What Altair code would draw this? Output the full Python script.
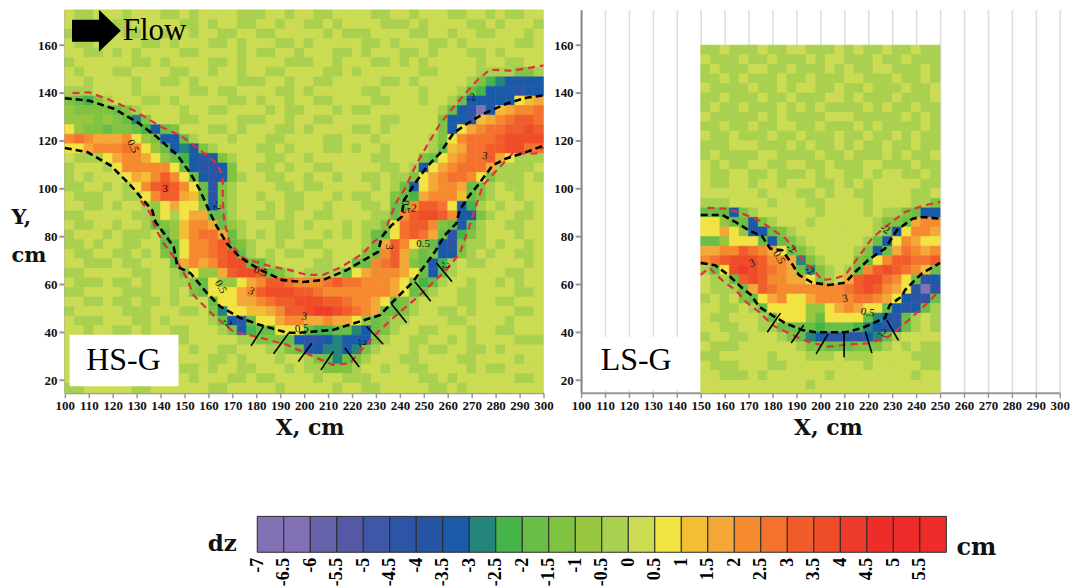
import altair as alt
import pandas as pd

LEVELS = {"P": -6.5, "B": -4.5, "b": -3.5, "t": -3, "g": -2.5, "h": -2, "m": -1.5, "l": -1,
          ",": -0.5, ".": 0, "y": 0.5, "o": 1, "a": 1.5, "c": 2, "d": 2.5, "e": 3, "f": 3.5, "r": 4}

LEFT_ROWS = [
    ".,,.. .,... ,,.,. ...,, ,..,. .,,.. ..,,. .,... ,,..,  .,,..",
    "..,.. ,,... ..,,. ,..,, ..,.. ,,.,. ...,, ,.,.. ..,,. ,...,",
    ",.... .,,.. ,..,. .,,.. ,,... ..,., ,,... .,,.. ,..,, ...,.",
    ".,,.. ...,, .,... ,,.,. ..,,. ,.... .,,., ...,, .,... ..,,.",
    "..,,. ,.,.. ..,,. ...,. ,,.., ...,, .,... ,,.,. ..,,. ,....",
    ",.... ..,,. ,.... ,,.,. ...,, ,..,. ..,,. ,.,.. ...,. .,,..",
    ".,... ,,... .,,.. ,..,. .,,.. ..,,. ,.... ..,,. ...,, ,,mm,",
    "..,.. ..,.. ,,.,. ...,, ,..,. .,,.. ...,, .,... ..,mg tbbbb",
    ",,,.. ..,.. ...,, .,,.. ..,,. ,.... .,,.. ..,.. .,hgb bbBbb",
    "mhgm, ...,, .,... ..,,. ,..,. .,,.. ..,,. ..,.. ,hbbb bbyoa",
    "lmmmm hm,.. ..,.. ,,... .,.,, ...,. ,,... ...., hbBPb oaccd",
    "lllml mhtm. ..,,. ...,, ,..,. .,,.. ...,, ....m bbBoa cdeed",
    "ylmmh mmhgb hm... ,,.,. ..,,. ,.... ,,.,. ....m byacd deefe",
    "cdcaa acylm bbh,. ..,.. .,,.. ..,,. ..,.. ...,m ycddd effff",
    "yyacc cdcyl hbtbm ,.... ,,.,. ..,,. ,..,. ...,h oadde effdd",
    ".,,,y accay lhgbB bm,.. .,,.. ,.... ..,,. ..mhy acdde ay,,,",
    ",..., ycccc cyhbB Bbm.. ,,.,. .,,.. ...,, .,bya cddda ,,,,.",
    ",.,.. .yaoc ecyhb Bbm,. .,,.. ,..,. .,,., ,myac ddcym ,,,.,",
    ",,.., .,yce fecyh Bm,.. ..,,. ,,... ..,., hbyac cahm, .,,..",
    ".,,,. .,,yc eeaoh Bm,.. ,..,, ...,. ,,..m hgacc cohm, ..,..",
    "..,,. ,..,l yayyl bm,.. .,.,, ..,.. .,,.h hceed ybg,. ,..,.",
    ",,... ..,,l y,yaa hh,.. ,,.,. .,,.. ..,,h ceffe cbbm, ..,,.",
    ".,,.. ,..,h mlocc ahl,. ..,,. ,..., .,,my deecm hbh,. .,,..",
    ",..., .,,,. hlocd dah,. ,.,,. ..,., .,hhy dedah Bgm,. ..,..",
    ",,.,. .,,.. hhycc dehm, ..,.. ,,... .,hae cylhb Bm,,. ,..,.",
    ".,,.. ,,.,. mhycc defh, .,.,, ..,.. .mhce alhmb bm,., ..,,.",
    "..,,, .,,.. .haca ceffh h,... .,,.. hhcde amhbg ,.,,. ...,.",
    ",,... ..,,. .,myl laeff ehm,. ,,,,h yaccc ayhbh ,.... .,,..",
    ".,,,. ,,.,. .,,mh yllya ceedc ccded dccca ymgh, ..,.. ,.,..",
    ",,... .,,,. .,.mh yyyac efffe edccc cccca yhm,. .,,.. ..,,.",
    "..,,. ,,.,, .,... hyyaa cdeef ffeed ccayh m,... .,,.. ,,...",
    ",.... .,,,. ..,,. mtyyo oacee frrfe dcahh m,.., ,.,.. ..,,.",
    ".,,,. ..,,. ,.... ,hbBh yyacc aacaa ylhm, ,.... ,,... .,...",
    "..,.. ,,.,. .,,.. .,mbg hhyyy hgghh tbhm, ..,,. ..,.. ,,...",
    ".,... ..,.. .,,.. ...,, mmmhb BBbtb bbm,. .,,.. ,.,.. ..,,,",
    "..,,. ..... ...,. .,,.. .,,mh bbttb tm,.. .,.,, ..,,. ,....",
    ".,... ..,.. .,... ,,.,. ..,.. ,mhth m,... ,,... .,,.. ..,..",
    "..... .,... ..,,. ,..,, ...,. ,,mmm ,..,. .,,.. ..,., ,....",
    "..,.. ..... ,..,. ..,,. ,,... .,.., ,,... ..,,. ,.... ..,,.",
    ",,... ..,,. ..... ,,... ..,.. ...,. .,,.. ...,, .,... .....",
]

RIGHT_ROWS = [
    ",,.,, ,.,,. .,,,. ,.,,. ,,.,,",
    ".,,,. ,,.,, ,.,.. ,,,., ,.,,,",
    ",.,,, ..,,. ,,,., .,,.. ,,,.,",
    ",,.,. ,,,., ,.,,, ..,,, .,,.,",
    ".,,,, .,,., ..,,. ,,.,, ,.,,.",
    ",,.,, ,.,,. ,,,.. ,.,,, .,,,.",
    ",.,,. ,,,., .,.,, ,,.,. ,,.,,",
    ".,,,, ,.,., ,,,.. .,,,, ,.,.,",
    ",,.,, .,,.. ,,.,, ,.,., ,,,.,",
    ".,,., ,,.,, .,,,. ,,.,, .,.,,",
    ",,,.. .,,,. ,.,,. ,.,,. ,,.,,",
    ",.,,, ,..,, ,,.,, .,,,. ,.,,.",
    ".,.,, ..,,. .,,., ,,.., ,,.,,",
    ".,,.. ,,.,, ,.,.. ,,.,. .,,.,",
    ".,,.. ,..,. ..,,. ,.,.. ...,,",
    "..... .,... ,,.,. .,,.. ..,,.",
    ",,,.. ..,.. .,,.. ..,.. ..,,m",
    "hhhbm ,.... ..,.. ..,., ,mhbb",
    "yylhh bm,.. .,... ...,m mhacc",
    "yyayl bbhm, ..... ...,m bycca",
    "hhlyy yhbhm ,.... ..,hb ycayy",
    "aacce dcayh m,... .,mbh adcac",
    "cdeff fecca tm,.. .mhyc eedde",
    ",hyfr fedca htm,. ,hcef edcoh",
    ".,,he fecca aym,. aeffd cyhBb",
    ".,,,h aedcc ccccc defec ayBPB",
    ",.,.m hyacy yaccc cddca ybBBh",
    "..,,. ,hyyy yllya cayyh bBbh,",
    ".,,.. .,hyy ylhyy yyhtb Bh,.,",
    "..,,. .,,hh hhghh hgtbB bh,.,",
    ",..,, ...,m htbBB BBbth ,....",
    ".,,,. ..... ,mmhh hmmm, .,.,,",
    ",,... ..,.. .,,,. ,,,.. ..,,,",
    ".,,,. ..,,. ..... ..,.. ...,,",
    "..,,, .,... ...,. ..... ..,..",
    "..... ..... .,... ..... .....",
    "..... ..... ..... ..... .....",
]

LEGEND_VALUES = [-7, -6.5, -6, -5.5, -5, -4.5, -4, -3.5, -3, -2.5, -2, -1.5, -1, -0.5,
                 0, 0.5, 1, 1.5, 2, 2.5, 3, 3.5, 4, 4.5, 5, 5.5]
LEGEND_COLORS = ["#8272b5", "#8272b5", "#6763ab", "#5558a5", "#3e58a7", "#2d55a5", "#2653a2",
                 "#1a5aa8", "#25857a", "#45b549", "#6abd45", "#80c341", "#97c63f", "#a9d04e",
                 "#cbdc52", "#f1e342", "#f2bf33", "#f4a838", "#f58a2e", "#f3732e", "#f05d2a",
                 "#ef4c28", "#ee3b2a", "#ee2d29", "#ee2a2a", "#ee2c2a"]

L_UP_BLACK = [(100,137.8),(110,136.8),(120.5,133.4),(130.3,127.8),(138.6,121.5),(147,114),(152.5,106.4),(156.5,99.3),(160.8,89.6),(163.6,84),(167.8,77),(173,71.5),(181.7,66),(191,61.8),(199.6,61),(208,61.9),(217.8,66),(224.7,70),(230.9,73.6),(232.4,79.9),(236.5,84.7),(240.7,88.2),(241.7,95.2),(246.3,102.2),(251.1,109),(256.7,114.7),(262.2,123),(267.8,127),(274.7,131.2),(284.4,135.5),(292.8,138),(300,139)]
L_LOW_BLACK = [(100,117),(109.4,115.3),(119,109.8),(127.5,101.4),(131.7,96.5),(136.5,91),(137.9,86.1),(141.4,81.4),(145.5,75.7),(147,67.4),(152.5,64.7),(159.4,56.4),(165,50.7),(173.3,46),(180.3,43.5),(192.8,39.8),(198.3,39.8),(212,41),(224.7,45),(231.7,47.2),(236.5,52.2),(245.5,61.1),(249,66),(254.6,73.6),(258.8,80.6),(263.6,85.5),(265,91),(268.5,96.5),(272,100.7),(278.8,109.8),(284.4,112.6),(292.8,115.3),(300,118)]
L_UP_RED = [(103.2,139.9),(110,140.3),(117.8,137.5),(128.9,132.7),(140,126),(148.3,122.2),(156.7,116),(163.6,110.5),(166,104.9),(166,95),(166.4,88.2),(166.7,86),(169,77),(174.6,71),(184.4,68),(194,66),(201,64),(208,64),(215,67),(224.7,73),(229,77.8),(233,80.6),(238.6,94.5),(241.7,99.3),(247,110.5),(252.5,120),(256.7,127),(263.6,135.5),(272,145),(277.5,149.7),(287,149.3),(300,151.5)]
L_LOW_RED = [(131.7,95),(135.8,89.6),(137.9,83.4),(141.4,77),(147,69.5),(151,62.5),(153.8,55.5),(162,47.2),(170.4,40.3),(180,38.2),(192.8,34.8),(203.8,29.9),(212,26.4),(219,27),(223.3,32),(231.7,41),(241,49.4),(247,54.4),(259.4,66),(265,73),(268.5,82.6),(272.5,95),(274.7,101.4),(287,114.7),(297,114.7),(300,117.4)]
L_SEGMENTS = [(183,42.4,177.8,34.3),(193.5,39.6,187.2,31),(203.2,35.4,197.6,27.8),(212.2,32,207,24.3),(217,33.4,223,25.5),(226.1,42.4,233,35),(236.5,51.8,242.8,44),(246.3,61.1,252.9,53),(255.3,69,261.8,61.1)]
L_LABELS = [("0.5",128.3,117.7,65),("3",142,100,0),("-2",163.6,93,90),("-2",269.9,137.8,-20),("3",275.4,113.6,10),("0.5",242,92.4,90),("-2",245,91.7,10),("0.5",165,59,60),("3",177.8,57,30),("-2",167.8,44,40),("0.5",181.7,65.3,20),("3",200,46.5,10),("0.5",199,41.4,-5),("-2",224,35.7,60),("3",235.5,75.7,90),("0.5",249.7,76.7,0),("-2",258.8,68,60)]

R_UP_BLACK = [(150,89),(159,89),(164.6,86),(170,82.7),(175.7,80),(179,75),(184,74.3),(188,68.8),(191,64),(196.5,60.8),(203.5,59.8),(210.4,60.7),(214.6,65.3),(220,70.2),(227,75),(232,82.7),(238.5,87.5),(242.4,88.2),(250,87.5)]
R_LOW_BLACK = [(150,69),(156,68),(161.5,64),(167.4,58.4),(171,55.6),(174.3,50.8),(180,47),(185.4,43.8),(192.4,41),(198,40),(210.4,40),(217.4,41.8),(227,46),(229,51.4),(234,55),(235.4,57.7),(238.2,60.5),(242.4,64.6),(250,69)]
R_UP_RED = [(152.8,92),(160.4,91.7),(167.4,89.6),(174.3,86.8),(178.5,84),(185.4,79.2),(189.6,74.4),(193.8,68.8),(197.2,66),(200.7,61.8),(206.2,62.5),(210.4,63.9),(216,71.6),(221.5,79.2),(227,84),(235.4,90.3),(242.4,92.7),(250,94.5)]
R_LOW_RED = [(150,64),(153.5,67),(159.7,61),(164.6,57.7),(168.8,52.8),(174.3,48.6),(180,43),(186.8,39.6),(195,36),(203.5,34),(210.4,34.8),(220,35.4),(228.5,38.2),(236.8,45),(243.8,51.4),(250,57.6)]
R_SEGMENTS = [(183.3,48,177.8,40),(193,43,187.8,35.5),(203.2,39.3,198.2,31),(209.9,39.6,209.9,29.6),(218.8,40.3,221.5,31.3),(227.8,45,232.6,36.6)]
R_LABELS = [("3",171.5,68.7,-20),("0.5",182.6,71.3,60),("-2",187.5,75,30),("-2",195.4,65.7,30),("3",210.4,54,-10),("0.5",219.7,48.2,10),("-2",227,83,30),("-2",225.7,39.6,10)]

X_TICKS = list(range(100, 301, 10))
Y_TICKS = list(range(20, 161, 20))
Y_BOTTOM, Y_TOP = 14.75, 174.75
SERIF = "Liberation Serif"
TITLE_SERIF = "DejaVu Serif"
GRID_STEP = 4


def grid_frame(rows, x_start, y_start):
    records = []
    for r, row in enumerate(rows):
        for c, code in enumerate(row.replace(" ", "")):
            records.append({
                "x": x_start + c * GRID_STEP, "x2": x_start + (c + 1) * GRID_STEP,
                "y": max(y_start - r * GRID_STEP, Y_BOTTOM),
                "y2": max(y_start - (r + 1) * GRID_STEP, Y_BOTTOM),
                "dz": LEVELS[code]})
    return pd.DataFrame(records)


def lines_frame(black_up, black_low, red_up, red_low):
    recs = []
    for name, kind, pts in [("a", "red", red_up), ("b", "red", red_low),
                            ("c", "black", black_up), ("d", "black", black_low)]:
        for i, (x, y) in enumerate(pts):
            recs.append({"x": x, "y": y, "line": name, "kind": kind, "i": i})
    return pd.DataFrame(recs)


xs = alt.Scale(domain=[100, 300], nice=False, zero=False)
ys = alt.Scale(domain=[Y_BOTTOM, Y_TOP], nice=False, zero=False)
cs = alt.Scale(type="threshold", domain=LEGEND_VALUES[1:], range=LEGEND_COLORS)


def panel(rows, x_start, y_start, lines, segs, labels, box, grid, y_title, x_title_pos):
    common_y = dict(values=Y_TICKS, grid=False, labelFont=SERIF, labelFontWeight="bold", labelFontSize=13,
                    labelColor="#111", domainColor="#888", domainWidth=2, tickColor="#999", tickWidth=2,
                    tickSize=6, labelPadding=2)
    if y_title:
        y_axis = alt.Axis(title=["Y,", "cm"], titleAngle=0, titleFont=TITLE_SERIF, titleFontWeight="bold",
                          titleFontSize=21, titleColor="#111", titleX=-54, titleY=214, titleAlign="left",
                          titleBaseline="alphabetic", titleLineHeight=38, **common_y)
    else:
        y_axis = alt.Axis(title=None, **common_y)
    x_axis = alt.Axis(values=X_TICKS, grid=grid, gridColor="#dcdcdc", gridWidth=1.5, title="X, cm",
                      titleFont=TITLE_SERIF, titleFontWeight="bold", titleFontSize=22, titleColor="#111",
                      titleX=x_title_pos, titlePadding=5, labelFont=SERIF, labelFontWeight="bold", labelFontSize=13,
                      labelColor="#111", labelAngle=0, labelOverlap=False, labelFlush=False, domainColor="#999",
                      domainWidth=2, tickColor="#999", tickWidth=1.5, tickSize=5, labelPadding=2)
    X = alt.X("x:Q", scale=xs, axis=x_axis)
    Y = alt.Y("y:Q", scale=ys, axis=y_axis)
    cells = alt.Chart(grid_frame(rows, x_start, y_start)).mark_rect(strokeWidth=0.6).encode(
        x=X, x2="x2:Q", y=Y, y2="y2:Q",
        color=alt.Color("dz:Q", scale=cs, legend=None),
        stroke=alt.Stroke("dz:Q", scale=cs, legend=None))
    box_df = pd.DataFrame([{"x": box[0], "x2": box[1], "y": box[2], "y2": box[3]}])
    white = alt.Chart(box_df).mark_rect(color="white").encode(x=X, x2="x2:Q", y=Y, y2="y2:Q")
    red = alt.Chart(lines[lines.kind == "red"]).mark_line(color="#e2303c", strokeWidth=2.2, strokeDash=[7, 5]).encode(
        x=X, y=Y, detail="line:N", order="i:Q")
    black = alt.Chart(lines[lines.kind == "black"]).mark_line(color="#000", strokeWidth=2.6, strokeDash=[7, 4]).encode(
        x=X, y=Y, detail="line:N", order="i:Q")
    seg_df = pd.DataFrame(segs, columns=["x", "y", "x2", "y2"])
    rules = alt.Chart(seg_df).mark_rule(color="#000", strokeWidth=1.6).encode(x=X, y=Y, x2="x2:Q", y2="y2:Q")
    layers = [cells, white, red, black, rules]
    for txt, x, y, angle in labels:
        d = pd.DataFrame([{"x": x, "y": y, "t": txt}])
        layers.append(alt.Chart(d).mark_text(font=SERIF, fontSize=11, color="#111", angle=(angle + 360) % 360).encode(
            x=X, y=Y, text="t:N"))
    return layers, X, Y


ARROW = "M-0.48,-0.22 L0.06,-0.22 L0.06,-0.42 L0.5,0 L0.06,0.42 L0.06,0.22 L-0.48,0.22 Z"
left_layers, LX, LY = panel(LEFT_ROWS, 100, Y_TOP, lines_frame(L_UP_BLACK, L_LOW_BLACK, L_UP_RED, L_LOW_RED),
                            L_SEGMENTS, L_LABELS, (102, 147.5, 39, 17.5), False, True, 245.5)
arrow = alt.Chart(pd.DataFrame([{"x": 113, "y": 166}])).mark_point(
    shape=ARROW, size=10000, filled=True, color="#000", opacity=1).encode(x=LX, y=LY)
flow = alt.Chart(pd.DataFrame([{"x": 124.2, "y": 166, "t": "Flow"}])).mark_text(
    font=SERIF, fontSize=31, color="#000", align="left", baseline="middle").encode(x=LX, y=LY, text="t:N")
hs = alt.Chart(pd.DataFrame([{"x": 124.5, "y": 28.3, "t": "HS-G"}])).mark_text(
    font=SERIF, fontSize=32, color="#000", baseline="middle").encode(x=LX, y=LY, text="t:N")
left = alt.layer(*left_layers, arrow, flow, hs).properties(width=480, height=384)

right_layers, RX, RY = panel(RIGHT_ROWS, 150, 160, lines_frame(R_UP_BLACK, R_LOW_BLACK, R_UP_RED, R_LOW_RED),
                             R_SEGMENTS, R_LABELS, (100.8, 149.5, 38, 15.8), True, False, 247.5)
ls = alt.Chart(pd.DataFrame([{"x": 123, "y": 28.3, "t": "LS-G"}])).mark_text(
    font=SERIF, fontSize=32, color="#000", baseline="middle").encode(x=RX, y=RY, text="t:N")
right = alt.layer(*right_layers, ls).properties(width=480, height=384)

bar_scale = alt.Scale(domain=[-10.63, 6.0], nice=False, zero=False)
bar_df = pd.DataFrame({"v": LEGEND_VALUES, "v2": [v + 0.5 for v in LEGEND_VALUES]})
bar_axis = alt.Axis(values=LEGEND_VALUES, title=None, domain=False, ticks=False, grid=False, labelAngle=-90,
                    labelFont=SERIF, labelFontWeight="bold", labelFontSize=18, labelColor="#000",
                    labelOverlap=False, labelPadding=5, labelFlush=False, labelExpr="toString(datum.value)")
BX = alt.X("v:Q", scale=bar_scale, axis=bar_axis)
bar = alt.Chart(bar_df).mark_rect(stroke="#2a2a2a", strokeWidth=1).encode(
    x=BX, x2="v2:Q", y=alt.value(0), y2=alt.value(36),
    color=alt.Color("v:Q", scale=cs, legend=None))
dz = alt.Chart(pd.DataFrame([{"v": -7.66, "t": "dz"}])).mark_text(
    font=TITLE_SERIF, fontWeight="bold", fontSize=23, color="#111").encode(
    x=BX, y=alt.value(28), text="t:N")
cm = alt.Chart(pd.DataFrame([{"v": 6.19, "t": "cm"}])).mark_text(
    font=TITLE_SERIF, fontWeight="bold", fontSize=24, color="#111", align="left").encode(
    x=BX, y=alt.value(32), text="t:N")
legend = alt.layer(bar, dz, cm).properties(width=884, height=36)

top = alt.hconcat(left, right, spacing=37.7, bounds="flush")
chart = alt.vconcat(top, legend, spacing=77).properties(
    padding={"left": 3, "top": 0, "right": 0, "bottom": 0}, background="white"
).configure_view(stroke=None)

chart.save("out.html", embed_options={"renderer": "svg", "actions": False})
